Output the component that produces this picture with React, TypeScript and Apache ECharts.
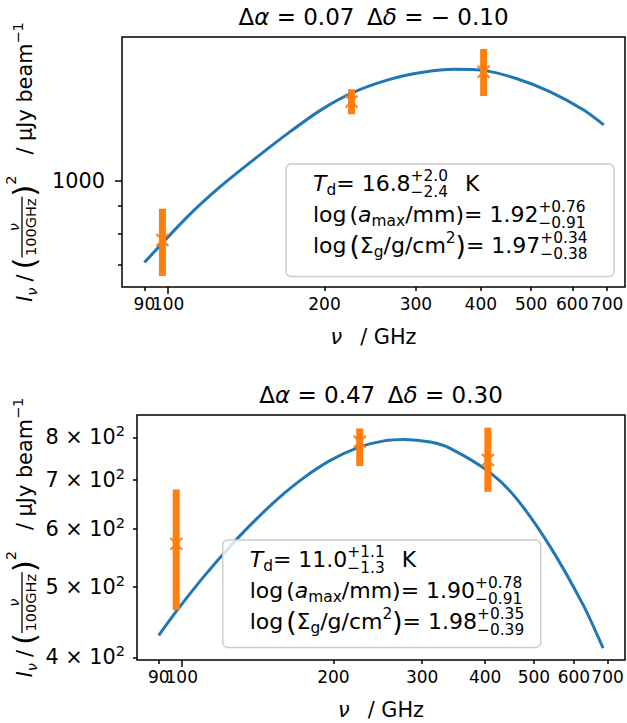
import React, { useEffect, useRef } from 'react';
import * as echarts from 'echarts';

const FONT = 'DejaVu Sans';
const BLUE = '#1f77b4';
const ORANGE = '#ff7f0e';
const F = 20.8;
const FL = 22;

// ---------- shared x axis (GHz, log) ----------
const xMinGHz = 81.5;
const xMaxGHz = 758;
const xMajorTicks = [100];
const xMinorTicks = [90, 200, 300, 400, 500, 600, 700];

// ---------- panel 1 ----------
const p1Offsets = ['0.07', '− 0.10'];
const p1CurveFreq = [90, 109, 126, 147, 170, 197, 225, 265, 307, 357, 407, 468, 543, 630, 690];
const p1CurveFlux = [708, 860, 976, 1099, 1223, 1351, 1449, 1534, 1582, 1604, 1595, 1543, 1460, 1352, 1268];
const p1ObsFreq = [97.5, 225.5, 405];
const p1ObsFlux = [779, 1399, 1588];
const p1ObsLow = [669, 1326, 1433];
const p1ObsHigh = [889, 1474, 1748];
const p1YMin = 638.4;
const p1YMax = 1839;
const p1YMajorTicks = [1000];
const p1YMinorTicks = [700, 800, 900];
const p1Td = ['16.8', '+2.0', '−2.4'];
const p1Amax = ['1.92', '+0.76', '−0.91'];
const p1Sigma = ['1.97', '+0.34', '−0.38'];

// ---------- panel 2 ----------
const p2Offsets = ['0.47', '0.30'];
const p2CurveFreq = [90, 98.2, 110.9, 125.2, 139.3, 154.9, 175.1, 197.6, 223.1, 252, 276, 311.7, 340.9, 409.2, 462.1, 538, 626, 685.8];
const p2CurveFlux = [428.6, 465.2, 517.1, 569.1, 614.4, 658.8, 705.3, 744.7, 774.2, 791.3, 795.0, 788.3, 772.9, 716, 659.1, 567.5, 471.8, 411.6];
const p2ObsFreq = [97.5, 225.5, 405];
const p2ObsFlux = [572, 789, 745];
const p2ObsLow = [464, 731, 674];
const p2ObsHigh = [679, 823, 825];
const p2YMin = 396.6;
const p2YMax = 858.6;
const p2YTicks = [400, 500, 600, 700, 800];
const p2Td = ['11.0', '+1.1', '−1.3'];
const p2Amax = ['1.90', '+0.78', '−0.91'];
const p2Sigma = ['1.98', '+0.35', '−0.39'];

const L = (v: number) => Math.log10(v);

type Piece =
  | { k: 't'; s: string; fs: number; it?: boolean; dy?: number }
  | { k: 'gap'; w: number }
  | { k: 'ss'; sup: string; sub: string; fs: number; up: number; down: number }
  | { k: 'frac'; num: string; den: string; fs: number; axis: number; gap: number; numIt?: boolean };

function makeMeasurer() {
  const ctx = document.createElement('canvas').getContext('2d') as CanvasRenderingContext2D;
  return (s: string, fs: number, it = false) => {
    ctx.font = `${it ? 'italic ' : ''}${fs}px "${FONT}"`;
    return ctx.measureText(s).width;
  };
}

function textEl(s: string, fs: number, it: boolean, x: number, base: number) {
  return {
    type: 'text',
    x,
    y: base - 0.346 * fs,
    z: 100,
    silent: true,
    style: {
      text: s,
      fontSize: fs,
      fontFamily: FONT,
      fontStyle: it ? 'italic' : 'normal',
      fill: '#000',
      textAlign: 'left',
      align: 'left',
      textVerticalAlign: 'middle',
      verticalAlign: 'middle',
    },
  };
}

function layout(measure: (s: string, fs: number, it?: boolean) => number, pieces: Piece[]) {
  const els: any[] = [];
  let x = 0;
  for (const p of pieces) {
    if (p.k === 't') {
      els.push(textEl(p.s, p.fs, !!p.it, x, p.dy || 0));
      x += measure(p.s, p.fs, !!p.it);
    } else if (p.k === 'gap') {
      x += p.w;
    } else if (p.k === 'ss') {
      els.push(textEl(p.sup, p.fs, false, x, -p.up));
      els.push(textEl(p.sub, p.fs, false, x, p.down));
      x += Math.max(measure(p.sup, p.fs), measure(p.sub, p.fs));
    } else {
      const wn = measure(p.num, p.fs, !!p.numIt);
      const wd = measure(p.den, p.fs);
      const pad = 1.5;
      const w = Math.max(wn, wd) + 2 * pad;
      els.push({
        type: 'line', z: 100, silent: true,
        shape: { x1: x, y1: -p.axis, x2: x + w, y2: -p.axis },
        style: { stroke: '#000', lineWidth: 1.3 },
      });
      els.push(textEl(p.num, p.fs, !!p.numIt, x + (w - wn) / 2, -p.axis - p.gap));
      els.push(textEl(p.den, p.fs, false, x + (w - wd) / 2, -p.axis + p.gap + 0.73 * p.fs));
      x += w;
    }
  }
  return { els, width: x };
}

function titlePieces(off: string[]): Piece[] {
  const T = 23;
  return [
    { k: 't', s: 'Δ', fs: T },
    { k: 't', s: 'α', fs: T, it: true },
    { k: 't', s: ' = ' + off[0], fs: T },
    { k: 'gap', w: 0.55 * T },
    { k: 't', s: 'Δ', fs: T },
    { k: 't', s: 'δ', fs: T, it: true },
    { k: 't', s: ' = ' + off[1], fs: T },
  ];
}

function xNamePieces(): Piece[] {
  return [
    { k: 't', s: 'ν', fs: F, it: true },
    { k: 'gap', w: 18 },
    { k: 't', s: '/ GHz', fs: F },
  ];
}

function yNamePieces(): Piece[] {
  const s = 0.7 * F;
  return [
    { k: 't', s: 'I', fs: F, it: true },
    { k: 't', s: 'ν', fs: s, it: true, dy: 0.2 * F },
    { k: 'gap', w: 6 },
    { k: 't', s: '/', fs: F },
    { k: 'gap', w: 5 },
    { k: 't', s: '(', fs: 31, dy: 2.5 },
    { k: 'frac', num: 'ν', den: '100GHz', fs: s, axis: 10, gap: 3.2, numIt: true },
    { k: 't', s: ')', fs: 31, dy: 2.5 },
    { k: 't', s: '2', fs: s, dy: -0.8 * F },
    { k: 'gap', w: 21 },
    { k: 't', s: '/ μJy beam', fs: F },
    { k: 't', s: '−1', fs: s, dy: -0.45 * F },
  ];
}

function fitLines(td: string[], amax: string[], sigma: string[]): Piece[][] {
  const s = 0.7 * FL;
  const ss = (v: string[]): Piece => ({ k: 'ss', sup: v[1], sub: v[2], fs: s, up: 0.42 * FL, down: 0.3 * FL });
  return [
    [
      { k: 't', s: 'T', fs: FL, it: true },
      { k: 't', s: 'd', fs: s, dy: 0.2 * FL },
      { k: 't', s: '= ' + td[0], fs: FL },
      ss(td),
      { k: 'gap', w: 17 },
      { k: 't', s: 'K', fs: FL },
    ],
    [
      { k: 't', s: 'log', fs: FL },
      { k: 'gap', w: 3 },
      { k: 't', s: '(', fs: FL },
      { k: 't', s: 'a', fs: FL, it: true },
      { k: 't', s: 'max', fs: s, dy: 0.2 * FL },
      { k: 't', s: '/mm)= ' + amax[0], fs: FL },
      ss(amax),
    ],
    [
      { k: 't', s: 'log', fs: FL },
      { k: 'gap', w: 3 },
      { k: 't', s: '(', fs: 1.2 * FL, dy: 1.7 },
      { k: 't', s: 'Σ', fs: FL },
      { k: 't', s: 'g', fs: s, dy: 0.2 * FL },
      { k: 't', s: '/g/cm', fs: FL },
      { k: 't', s: '2', fs: s, dy: -0.45 * FL },
      { k: 't', s: ')', fs: 1.2 * FL, dy: 1.7 },
      { k: 't', s: '= ' + sigma[0], fs: FL },
      ss(sigma),
    ],
  ];
}

function buildOption() {
  const measure = makeMeasurer();
  const grids = [
    { left: 122, top: 37, width: 503, height: 250 },
    { left: 137, top: 415, width: 488, height: 245 },
  ];
  const boxes = [
    { x: 286, y: 164, w: 328, h: 112.5 },
    { x: 222.7, y: 540, w: 318, h: 107.5 },
  ];
  const fits = [fitLines(p1Td, p1Amax, p1Sigma), fitLines(p2Td, p2Amax, p2Sigma)];
  const offsets = [p1Offsets, p2Offsets];

  const graphic: any[] = [];
  grids.forEach((g, i) => {
    const cx = g.left + g.width / 2;
    const cy = g.top + g.height / 2;
    const t = layout(measure, titlePieces(offsets[i]));
    graphic.push({ type: 'group', x: cx - t.width / 2, y: g.top - 12.5, children: t.els });
    const xn = layout(measure, xNamePieces());
    graphic.push({ type: 'group', x: cx - xn.width / 2, y: g.top + g.height + 57, children: xn.els });
    const yn = layout(measure, yNamePieces());
    graphic.push({
      type: 'group', x: 32, y: cy, rotation: Math.PI / 2,
      children: [{ type: 'group', x: -yn.width / 2, y: 0, children: yn.els }],
    });
    const b = boxes[i];
    graphic.push({
      type: 'rect', z: 99, silent: true,
      shape: { x: b.x, y: b.y, width: b.w, height: b.h, r: 5 },
      style: { fill: 'rgba(255,255,255,0.8)', stroke: '#cccccc', lineWidth: 1.5 },
    });
    fits[i].forEach((line, j) => {
      const l = layout(measure, line);
      graphic.push({ type: 'group', x: b.x + 27, y: b.y + 27 + 31 * j, children: l.els });
    });
  });

  const tickStyle = { color: '#000', width: 1.5 };
  const xFmt = (v: number) => String(Math.round(Math.pow(10, v)));
  const xAxis: any[] = [];
  const yAxis: any[] = [];
  grids.forEach((_, i) => {
    for (const [ticks, len] of [[xMajorTicks, 7], [xMinorTicks, 4]] as [number[], number][]) {
      xAxis.push({
        gridIndex: i, type: 'value', position: 'bottom',
        min: L(xMinGHz), max: L(xMaxGHz),
        axisLine: { show: false }, splitLine: { show: false },
        axisTick: { show: true, customValues: ticks.map(L), length: len, lineStyle: tickStyle },
        axisLabel: {
          show: true, customValues: ticks.map(L), formatter: xFmt,
          fontSize: 17, fontFamily: FONT, color: '#000', margin: 8,
        },
      });
    }
  });
  // panel 1 y axes
  yAxis.push({
    gridIndex: 0, type: 'value', position: 'left', min: L(p1YMin), max: L(p1YMax),
    axisLine: { show: false }, splitLine: { show: false },
    axisTick: { show: true, customValues: p1YMajorTicks.map(L), length: 7, lineStyle: tickStyle },
    axisLabel: {
      show: true, customValues: p1YMajorTicks.map(L), formatter: xFmt,
      fontSize: F, fontFamily: FONT, color: '#000', margin: 17,
    },
  });
  yAxis.push({
    gridIndex: 0, type: 'value', position: 'left', min: L(p1YMin), max: L(p1YMax),
    axisLine: { show: false }, splitLine: { show: false },
    axisTick: { show: true, customValues: p1YMinorTicks.map(L), length: 4, lineStyle: tickStyle },
    axisLabel: { show: false },
  });
  // panel 2 y axis
  yAxis.push({
    gridIndex: 1, type: 'value', position: 'left', min: L(p2YMin), max: L(p2YMax),
    axisLine: { show: false }, splitLine: { show: false },
    axisTick: { show: true, customValues: p2YTicks.map(L), length: 4, lineStyle: tickStyle },
    axisLabel: {
      show: true, customValues: p2YTicks.map(L), margin: 12,
      formatter: (v: number) => `{a|${Math.round(Math.pow(10, v) / 100)} × 10}{b|2}`,
      rich: {
        a: { fontSize: F, fontFamily: FONT, color: '#000', lineHeight: 28 },
        b: { fontSize: 0.7 * F, fontFamily: FONT, color: '#000', verticalAlign: 'top', lineHeight: 14 },
      },
    },
  });

  const errRender = (params: any, api: any) => {
    const xv = api.value(0);
    const c = api.coord([xv, api.value(1)]);
    const lo = api.coord([xv, api.value(2)]);
    const hi = api.coord([xv, api.value(3)]);
    const s = 6;
    return {
      type: 'group',
      children: [
        { type: 'line', shape: { x1: c[0], y1: lo[1], x2: c[0], y2: hi[1] }, style: { stroke: ORANGE, lineWidth: 7 } },
        { type: 'line', shape: { x1: c[0] - s, y1: c[1] - s, x2: c[0] + s, y2: c[1] + s }, style: { stroke: ORANGE, lineWidth: 2 } },
        { type: 'line', shape: { x1: c[0] - s, y1: c[1] + s, x2: c[0] + s, y2: c[1] - s }, style: { stroke: ORANGE, lineWidth: 2 } },
      ],
    };
  };

  const curve = (fr: number[], fl: number[]) => fr.map((f, i) => [L(f), L(fl[i])]);
  const obs = (fr: number[], fl: number[], lo: number[], hi: number[]) =>
    fr.map((f, i) => [L(f), L(fl[i]), L(lo[i]), L(hi[i])]);

  const series: any[] = [
    {
      type: 'line', xAxisIndex: 0, yAxisIndex: 0, data: curve(p1CurveFreq, p1CurveFlux),
      showSymbol: false, symbol: 'none', smooth: 0.3, silent: true, z: 2,
      lineStyle: { color: BLUE, width: 3 },
    },
    {
      type: 'custom', xAxisIndex: 0, yAxisIndex: 0, data: obs(p1ObsFreq, p1ObsFlux, p1ObsLow, p1ObsHigh),
      renderItem: errRender, silent: true, z: 3,
    },
    {
      type: 'line', xAxisIndex: 2, yAxisIndex: 2, data: curve(p2CurveFreq, p2CurveFlux),
      showSymbol: false, symbol: 'none', smooth: 0.3, silent: true, z: 2,
      lineStyle: { color: BLUE, width: 3 },
    },
    {
      type: 'custom', xAxisIndex: 2, yAxisIndex: 2, data: obs(p2ObsFreq, p2ObsFlux, p2ObsLow, p2ObsHigh),
      renderItem: errRender, silent: true, z: 3,
    },
  ];

  return {
    animation: false,
    backgroundColor: '#fff',
    textStyle: { fontFamily: FONT },
    grid: grids.map((g) => ({ ...g, show: true, borderColor: '#000', borderWidth: 1.5, backgroundColor: 'transparent', containLabel: false })),
    xAxis,
    yAxis,
    series,
    graphic: { elements: graphic },
  };
}

export default function App() {
  const ref = useRef<HTMLDivElement>(null);
  useEffect(() => {
    document.body.style.margin = '0';
    const chart = echarts.init(ref.current as HTMLDivElement, undefined, { renderer: 'svg' });
    chart.setOption(buildOption() as any);
    return () => chart.dispose();
  }, []);
  return <div ref={ref} style={{ width: 627, height: 723 }} />;
}
